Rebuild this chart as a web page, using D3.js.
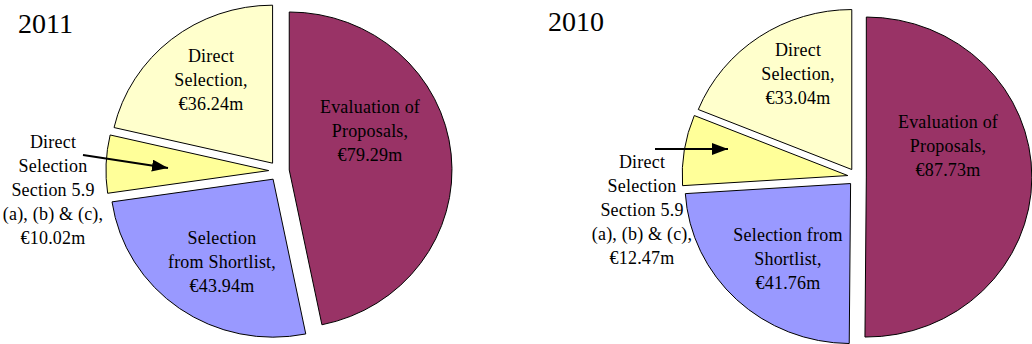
<!DOCTYPE html>
<html>
<head>
<meta charset="utf-8">
<script src="https://cdn.jsdelivr.net/npm/d3@7"></script>
<style>
  body { margin: 0; background: #fff; }
  svg text { font-family: "Liberation Serif", "Times New Roman", serif; fill: #000; }
</style>
</head>
<body>
<svg id="chart" width="1032" height="344"></svg>
<script>
// categories in clockwise order starting at 12 o'clock
const categories = [
  "Evaluation of Proposals",
  "Selection from Shortlist",
  "Direct Selection Section 5.9 (a), (b) & (c)",
  "Direct Selection"
];
const colors = ["#993366", "#9999FF", "#FFFF99", "#FFFFCC"];

const values2011 = [79.29, 43.94, 10.02, 36.24];
const values2010 = [87.73, 41.76, 12.47, 33.04];

const labels2011 = [
  ["Evaluation of", "Proposals,", "€79.29m"],
  ["Selection", "from Shortlist,", "€43.94m"],
  ["Direct", "Selection", "Section 5.9", "(a), (b) & (c),", "€10.02m"],
  ["Direct", "Selection,", "€36.24m"]
];
const labels2010 = [
  ["Evaluation of", "Proposals,", "€87.73m"],
  ["Selection from", "Shortlist,", "€41.76m"],
  ["Direct", "Selection", "Section 5.9", "(a), (b) & (c),", "€12.47m"],
  ["Direct", "Selection,", "€33.04m"]
];

// layout of each pie (center, radius, explode distance, label anchors = first baseline)
const charts = [
  {
    title: "2011", tx: 18, ty: 33,
    values: values2011, labels: labels2011,
    cx: 279, cy: 171, r: 158, explode: 10, sx: 1.03,
    labelPos: [[370, 113], [222, 244], [53, 148], [211, 62]],
    arrow: [[83, 155], [168, 168]]
  },
  {
    title: "2010", tx: 548, ty: 31,
    values: values2010, labels: labels2010,
    cx: 857, cy: 177, r: 160, explode: 9, sx: 1.035,
    labelPos: [[948, 128], [788, 241], [642, 168], [798, 56]],
    arrow: [[655, 149], [728, 149]]
  }
];

const svg = d3.select("#chart");

svg.append("defs").append("marker")
    .attr("id", "arrowhead")
    .attr("viewBox", "0 0 16 12")
    .attr("refX", 16).attr("refY", 6)
    .attr("markerWidth", 8).attr("markerHeight", 6)
    .attr("markerUnits", "strokeWidth")
    .attr("orient", "auto")
  .append("path")
    .attr("d", "M0,0 L16,6 L0,12 z")
    .attr("fill", "#000");

const pie = d3.pie().sort(null).value(d => d);
const lineH = 24;

charts.forEach(c => {
  const arc = d3.arc().innerRadius(0).outerRadius(c.r);
  const arcs = pie(c.values);

  const g = svg.append("g")
      .attr("transform", "translate(" + c.cx + "," + c.cy + ") scale(" + c.sx + ",1)");

  g.selectAll("path")
    .data(arcs)
    .enter()
    .append("path")
      .attr("d", arc)
      .attr("transform", d => {
        const mid = (d.startAngle + d.endAngle) / 2;
        return "translate(" + (Math.sin(mid) * c.explode) + "," + (-Math.cos(mid) * c.explode) + ")";
      })
      .attr("fill", (d, i) => colors[i])
      .attr("stroke", "#000")
      .attr("stroke-width", 1)
      .attr("vector-effect", "non-scaling-stroke");

  svg.append("text")
      .attr("x", c.tx).attr("y", c.ty)
      .attr("font-family", "Liberation Serif, serif")
      .attr("font-size", 28)
      .text(c.title);

  c.labels.forEach((lines, i) => {
    const t = svg.append("text")
        .attr("text-anchor", "middle")
        .attr("font-family", "Liberation Serif, serif")
        .attr("font-size", 18)
        .attr("letter-spacing", 0.2);
    lines.forEach((ln, j) => {
      t.append("tspan")
        .attr("x", c.labelPos[i][0])
        .attr("y", c.labelPos[i][1] + j * lineH)
        .text(ln);
    });
  });

  svg.append("line")
      .attr("x1", c.arrow[0][0]).attr("y1", c.arrow[0][1])
      .attr("x2", c.arrow[1][0]).attr("y2", c.arrow[1][1])
      .attr("stroke", "#000")
      .attr("stroke-width", 2)
      .attr("marker-end", "url(#arrowhead)");
});
</script>
</body>
</html>
